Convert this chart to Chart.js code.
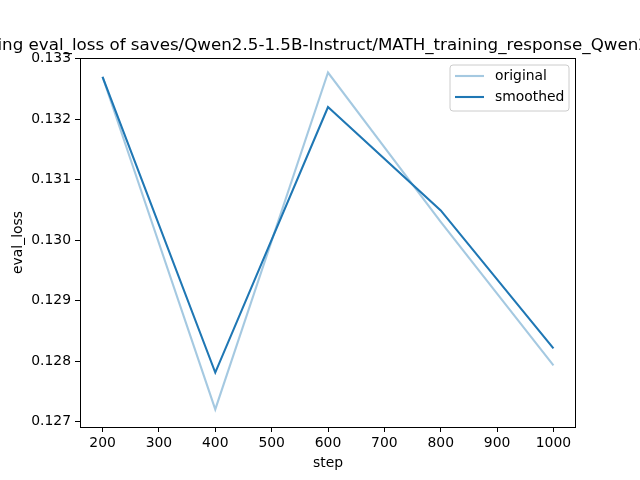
<!DOCTYPE html>
<html>
<head>
<meta charset="utf-8">
<script src="https://cdn.jsdelivr.net/npm/chart.js@4/dist/chart.umd.min.js"></script>
<style>
  html, body { margin: 0; padding: 0; background: #fff; }
  canvas { display: block; }
</style>
</head>
<body>
<canvas id="chart" width="640" height="480"></canvas>
<script>
const titleText = "training eval_loss of saves/Qwen2.5-1.5B-Instruct/MATH_training_response_Qwen2.5-1.5";
const steps = [200, 400, 600, 800, 1000];
const original = [0.13270, 0.12720, 0.13277, 0.13030, 0.12793];
const smoothed = [0.13270, 0.12781, 0.13220, 0.13049, 0.12821];
const xTicks = [200, 300, 400, 500, 600, 700, 800, 900, 1000];
const yTicks = [0.127, 0.128, 0.129, 0.130, 0.131, 0.132, 0.133];

const FONT = "DejaVu Sans";
const blue = "#1f77b4";

function toPoints(values) {
  return steps.map((s, i) => ({ x: s, y: values[i] }));
}

// axes frame, title and legend drawn the matplotlib way
const mplDecor = {
  id: "mplDecor",
  afterDraw(chart) {
    const ctx = chart.ctx;
    const area = chart.chartArea;
    ctx.save();

    ctx.strokeStyle = "#000";
    ctx.lineWidth = 1;
    ctx.strokeRect(area.left + 0.5, area.top + 0.5, area.width - 1, area.height);

    ctx.fillStyle = "#000";
    ctx.font = `16.7px "${FONT}"`;
    ctx.textAlign = "center";
    ctx.textBaseline = "alphabetic";
    ctx.fillText(titleText, (area.left + area.right) / 2, 50);

    // legend
    const bx = 450, by = 65, bw = 119, bh = 46, r = 3;
    ctx.beginPath();
    ctx.moveTo(bx + r, by);
    ctx.arcTo(bx + bw, by, bx + bw, by + bh, r);
    ctx.arcTo(bx + bw, by + bh, bx, by + bh, r);
    ctx.arcTo(bx, by + bh, bx, by, r);
    ctx.arcTo(bx, by, bx + bw, by, r);
    ctx.closePath();
    ctx.fillStyle = "rgba(255,255,255,0.8)";
    ctx.fill();
    ctx.strokeStyle = "#cccccc";
    ctx.lineWidth = 1;
    ctx.stroke();

    ctx.font = `13.9px "${FONT}"`;
    ctx.textAlign = "left";
    ctx.textBaseline = "middle";
    chart.data.datasets.forEach((ds, i) => {
      const y = 76 + i * 21;
      ctx.strokeStyle = ds.borderColor;
      ctx.lineWidth = ds.borderWidth;
      ctx.beginPath();
      ctx.moveTo(455, y);
      ctx.lineTo(484, y);
      ctx.stroke();
      ctx.fillStyle = "#000";
      ctx.fillText(ds.label, 495, y);
    });

    ctx.restore();
  },
};

new Chart(document.getElementById("chart"), {
  type: "line",
  data: {
    datasets: [
      {
        label: "original",
        data: toPoints(original),
        borderColor: "rgba(31,119,180,0.4)",
        borderWidth: 2.1,
        pointRadius: 0,
        tension: 0,
        order: 1,
      },
      {
        label: "smoothed",
        data: toPoints(smoothed),
        borderColor: blue,
        borderWidth: 2.1,
        pointRadius: 0,
        tension: 0,
        order: 0,
      },
    ],
  },
  options: {
    responsive: false,
    animation: false,
    layout: { padding: { top: 58, right: 64, left: 0, bottom: 0 } },
    plugins: {
      legend: { display: false },
      title: { display: false },
      tooltip: { enabled: false },
    },
    scales: {
      x: {
        type: "linear",
        min: 160,
        max: 1040,
        afterBuildTicks: (axis) => {
          axis.ticks = xTicks.map((v) => ({ value: v }));
        },
        afterFit: (axis) => {
          axis.height = 53;
        },
        ticks: {
          color: "#000",
          font: { family: FONT, size: 13.9 },
          padding: 3,
          maxRotation: 0,
          callback: (v) => String(v),
        },
        grid: {
          drawOnChartArea: false,
          drawTicks: true,
          tickLength: 5,
          tickColor: "#000",
        },
        border: { display: false },
        title: {
          display: true,
          text: "step",
          color: "#000",
          font: { family: FONT, size: 13.9 },
          padding: { top: 0, bottom: 8 },
        },
      },
      y: {
        min: 0.12691,
        max: 0.13301,
        afterBuildTicks: (axis) => {
          axis.ticks = yTicks.map((v) => ({ value: v }));
        },
        afterFit: (axis) => {
          axis.width = 80;
        },
        ticks: {
          color: "#000",
          font: { family: FONT, size: 13.9 },
          padding: 4,
          callback: (v) => v.toFixed(3),
        },
        grid: {
          drawOnChartArea: false,
          drawTicks: true,
          tickLength: 5,
          tickColor: "#000",
        },
        border: { display: false },
        title: {
          display: true,
          text: "eval_loss",
          color: "#000",
          font: { family: FONT, size: 13.9 },
          padding: { top: 10, bottom: 0 },
        },
      },
    },
  },
  plugins: [mplDecor],
});
</script>
</body>
</html>
